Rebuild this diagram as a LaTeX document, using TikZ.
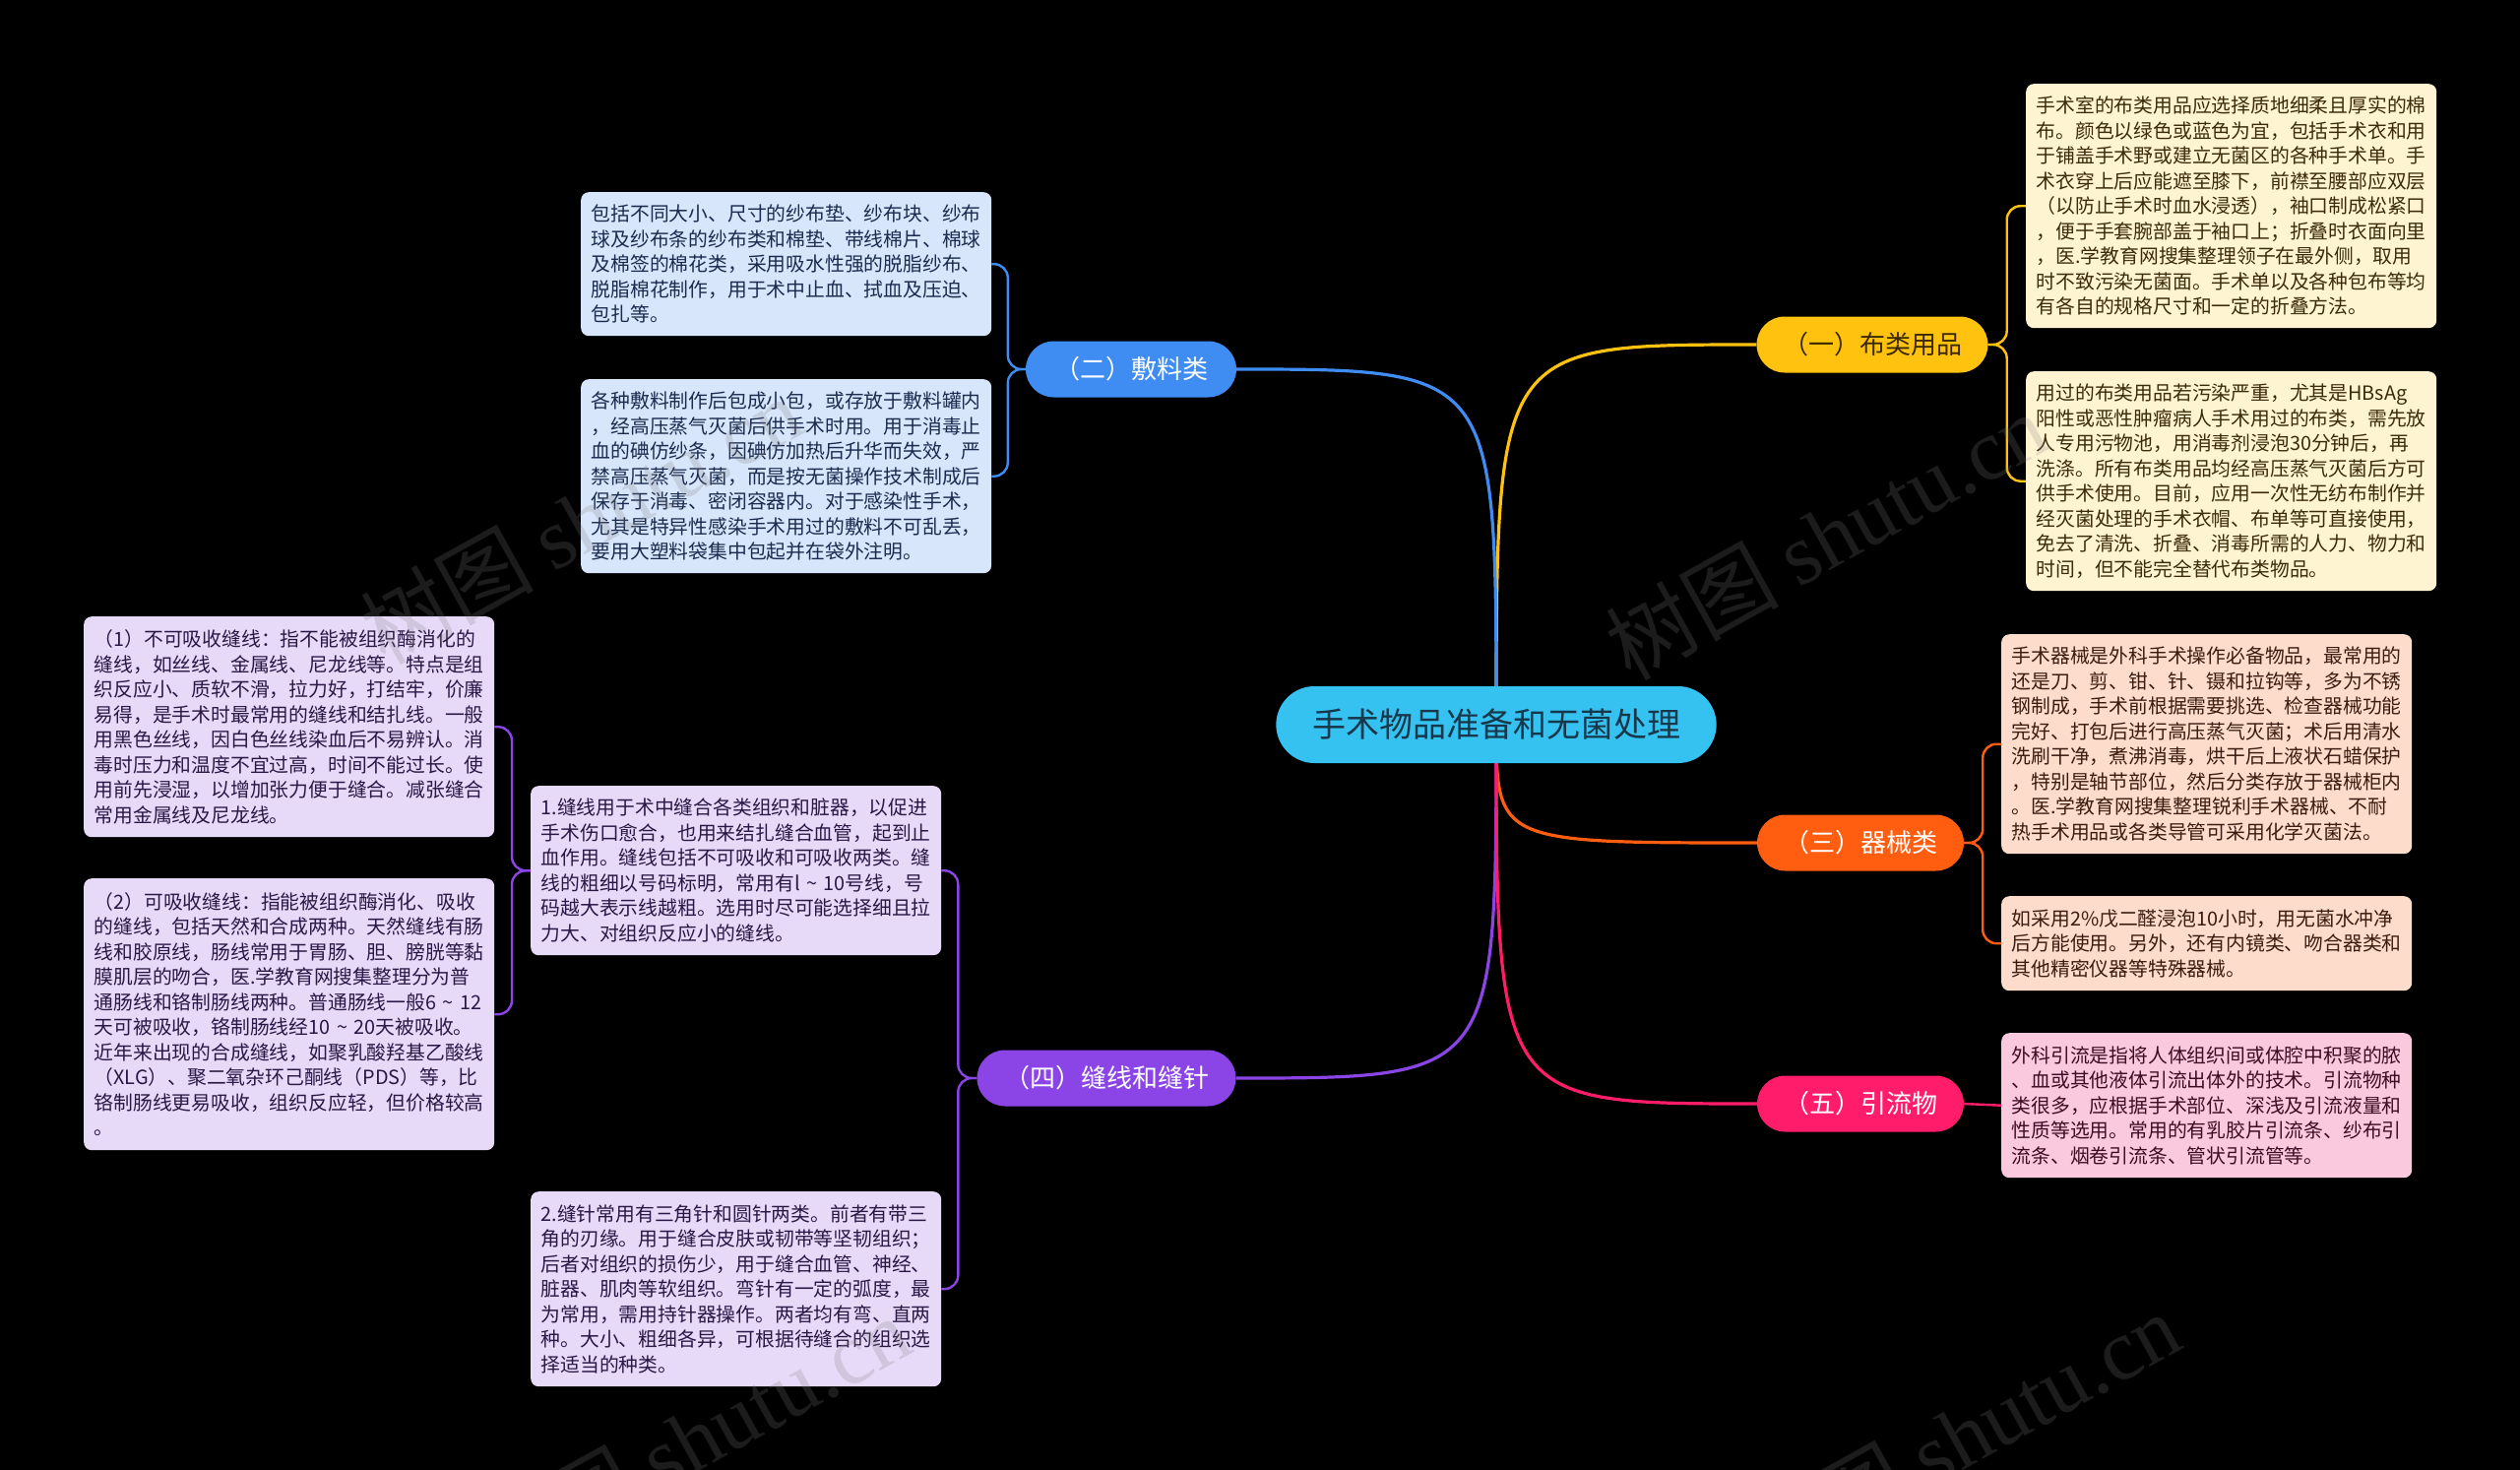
\documentclass[tikz,border=0pt]{standalone}
\usepackage{fontspec}
\setmainfont{Noto Sans CJK SC}
\newfontfamily\wmlatin{Liberation Serif}
\usetikzlibrary{shapes.misc,backgrounds}
\definecolor{rootfill}{HTML}{36C2F1}
\definecolor{roottext}{HTML}{17384A}
\definecolor{ylw}{HTML}{FFC20E}
\definecolor{ylwtext}{HTML}{3A2800}
\definecolor{blu}{HTML}{3F8CF2}
\definecolor{org}{HTML}{FF5D0F}
\definecolor{pur}{HTML}{8B45E6}
\definecolor{pnk}{HTML}{FF1C6B}
\definecolor{creamfill}{HTML}{FFF4D2}
\definecolor{creamtext}{HTML}{3B2A0B}
\definecolor{bluefill}{HTML}{D7E6FB}
\definecolor{bluetext}{HTML}{1B2B4F}
\definecolor{peachfill}{HTML}{FDDCCB}
\definecolor{peachtext}{HTML}{3A1C10}
\definecolor{pinkfill}{HTML}{FBC9DE}
\definecolor{pinktext}{HTML}{3D0C24}
\definecolor{purfill}{HTML}{E6DAF8}
\definecolor{purtext}{HTML}{2B1745}
\tikzset{
  leafbox/.style={rounded corners=8pt, anchor=north west, align=left,
    text width=396pt, inner xsep=10.5pt, inner ysep=0pt,
    font=\fontsize{19.8pt}{25.5pt}\selectfont},
  branchbox/.style={rounded rectangle, minimum height=57pt, inner xsep=0pt,
    font=\fontsize{26pt}{30pt}\selectfont},
  rootline/.style={line width=3.2pt},
  leafline/.style={line width=2.4pt, rounded corners=14pt},
  wmark/.style={text=gray, opacity=0.22, rotate=29,
    font=\fontsize{88pt}{90pt}\selectfont}
}
\begin{document}
\begin{tikzpicture}[x=1pt,y=-1pt]
\useasboundingbox (0,0) rectangle (2560,1493);
% root
\node[rounded rectangle, fill=rootfill, text=roottext, minimum width=454pt, minimum height=78pt,
  font=\fontsize{34pt}{38pt}\selectfont] (R) at (1520,736) {手术物品准备和无菌处理};
% branches
\node[branchbox, fill=ylw, text=ylwtext, minimum width=235pt] (B1) at (1902,350) {（一）布类用品};
\node[branchbox, fill=blu, text=white, minimum width=214pt] (B2) at (1149,375) {（二）敷料类};
\node[branchbox, fill=org, text=white, minimum width=210pt] (B3) at (1890,856) {（三）器械类};
\node[branchbox, fill=pur, text=white, minimum width=263pt] (B4) at (1124,1095) {（四）缝线和缝针};
\node[branchbox, fill=pnk, text=white, minimum width=210pt] (B5) at (1890,1121) {（五）引流物};
% leaves
\node[leafbox, fill=creamfill, text=creamtext, minimum height=248pt] (L1) at (2058,85) {手术室的布类用品应选择质地细柔且厚实的棉\\布。颜色以绿色或蓝色为宜，包括手术衣和用\\于铺盖手术野或建立无菌区的各种手术单。手\\术衣穿上后应能遮至膝下，前襟至腰部应双层\\（以防止手术时血水浸透），袖口制成松紧口\\，便于手套腕部盖于袖口上；折叠时衣面向里\\，医.学教育网搜集整理领子在最外侧，取用\\时不致污染无菌面。手术单以及各种包布等均\\有各自的规格尺寸和一定的折叠方法。};
\node[leafbox, fill=creamfill, text=creamtext, minimum height=223pt] (L2) at (2058,377) {用过的布类用品若污染严重，尤其是HBsAg\\阳性或恶性肿瘤病人手术用过的布类，需先放\\人专用污物池，用消毒剂浸泡30分钟后，再\\洗涤。所有布类用品均经高压蒸气灭菌后方可\\供手术使用。目前，应用一次性无纺布制作并\\经灭菌处理的手术衣帽、布单等可直接使用，\\免去了清洗、折叠、消毒所需的人力、物力和\\时间，但不能完全替代布类物品。};
\node[leafbox, fill=peachfill, text=peachtext, minimum height=223pt] (L3) at (2033,644) {手术器械是外科手术操作必备物品，最常用的\\还是刀、剪、钳、针、镊和拉钩等，多为不锈\\钢制成，手术前根据需要挑选、检查器械功能\\完好、打包后进行高压蒸气灭菌；术后用清水\\洗刷干净，煮沸消毒，烘干后上液状石蜡保护\\，特别是轴节部位，然后分类存放于器械柜内\\。医.学教育网搜集整理锐利手术器械、不耐\\热手术用品或各类导管可采用化学灭菌法。};
\node[leafbox, fill=peachfill, text=peachtext, minimum height=96pt] (L4) at (2033,910) {如采用2\%戊二醛浸泡10小时，用无菌水冲净\\后方能使用。另外，还有内镜类、吻合器类和\\其他精密仪器等特殊器械。};
\node[leafbox, fill=pinkfill, text=pinktext, minimum height=147pt] (L5) at (2033,1049) {外科引流是指将人体组织间或体腔中积聚的脓\\、血或其他液体引流出体外的技术。引流物种\\类很多，应根据手术部位、深浅及引流液量和\\性质等选用。常用的有乳胶片引流条、纱布引\\流条、烟卷引流条、管状引流管等。};
\node[leafbox, fill=bluefill, text=bluetext, minimum height=146pt] (L6) at (590,195) {包括不同大小、尺寸的纱布垫、纱布块、纱布\\球及纱布条的纱布类和棉垫、带线棉片、棉球\\及棉签的棉花类，采用吸水性强的脱脂纱布、\\脱脂棉花制作，用于术中止血、拭血及压迫、\\包扎等。};
\node[leafbox, fill=bluefill, text=bluetext, minimum height=197pt] (L7) at (590,385) {各种敷料制作后包成小包，或存放于敷料罐内\\，经高压蒸气灭菌后供手术时用。用于消毒止\\血的碘仿纱条，因碘仿加热后升华而失效，严\\禁高压蒸气灭菌，而是按无菌操作技术制成后\\保存于消毒、密闭容器内。对于感染性手术，\\尤其是特异性感染手术用过的敷料不可乱丢，\\要用大塑料袋集中包起并在袋外注明。};
\node[leafbox, fill=purfill, text=purtext, minimum height=224pt] (L8) at (85,626) {（1）不可吸收缝线：指不能被组织酶消化的\\缝线，如丝线、金属线、尼龙线等。特点是组\\织反应小、质软不滑，拉力好，打结牢，价廉\\易得，是手术时最常用的缝线和结扎线。一般\\用黑色丝线，因白色丝线染血后不易辨认。消\\毒时压力和温度不宜过高，时间不能过长。使\\用前先浸湿，以增加张力便于缝合。减张缝合\\常用金属线及尼龙线。};
\node[leafbox, fill=purfill, text=purtext, minimum height=276pt] (L9) at (85,892) {（2）可吸收缝线：指能被组织酶消化、吸收\\的缝线，包括天然和合成两种。天然缝线有肠\\线和胶原线，肠线常用于胃肠、胆、膀胱等黏\\膜肌层的吻合，医.学教育网搜集整理分为普\\通肠线和铬制肠线两种。普通肠线一般6 \textasciitilde{} 12\\天可被吸收，铬制肠线经10 \textasciitilde{} 20天被吸收。\\近年来出现的合成缝线，如聚乳酸羟基乙酸线\\（XLG）、聚二氧杂环己酮线（PDS）等，比\\铬制肠线更易吸收，组织反应轻，但价格较高\\。};
\node[leafbox, fill=purfill, text=purtext, minimum height=172pt] (L10) at (539,798) {1.缝线用于术中缝合各类组织和脏器，以促进\\手术伤口愈合，也用来结扎缝合血管，起到止\\血作用。缝线包括不可吸收和可吸收两类。缝\\线的粗细以号码标明，常用有l \textasciitilde{} 10号线，号\\码越大表示线越粗。选用时尽可能选择细且拉\\力大、对组织反应小的缝线。};
\node[leafbox, fill=purfill, text=purtext, minimum height=198pt] (L11) at (539,1210) {2.缝针常用有三角针和圆针两类。前者有带三\\角的刃缘。用于缝合皮肤或韧带等坚韧组织；\\后者对组织的损伤少，用于缝合血管、神经、\\脏器、肌肉等软组织。弯针有一定的弧度，最\\为常用，需用持针器操作。两者均有弯、直两\\种。大小、粗细各异，可根据待缝合的组织选\\择适当的种类。};
% watermarks
\node[wmark] (W1) at (590,528) {树图 {\wmlatin shutu.cn}};
\node[wmark] (W2) at (1855,544) {树图 {\wmlatin shutu.cn}};
\node[wmark] (W3) at (700,1462) {树图 {\wmlatin shutu.cn}};
\node[wmark] (W4) at (1990,1458) {树图 {\wmlatin shutu.cn}};
\begin{pgfonlayer}{background}
\fill[black] (0,0) rectangle (2560,1493);
% root to branches
\draw[rootline, ylw] (R.center) .. controls (R.center |- B1.west) .. (B1.west);
\draw[rootline, blu] (R.center) .. controls (R.center |- B2.east) .. (B2.east);
\draw[rootline, org] (R.center) .. controls (R.center |- B3.west) .. (B3.west);
\draw[rootline, pur] (R.center) .. controls (R.center |- B4.east) .. (B4.east);
\draw[rootline, pnk] (R.center) .. controls (R.center |- B5.west) .. (B5.west);
% branches to leaves
\draw[leafline, ylw] (B1.east) -- ++(19,0) |- (L1.west);
\draw[leafline, ylw] (B1.east) -- ++(19,0) |- (L2.west);
\draw[leafline, org] (B3.east) -- ++(19,0) |- (L3.west);
\draw[leafline, org] (B3.east) -- ++(19,0) |- (L4.west);
\draw[leafline, pnk] (B5.east) -- (L5.west);
\draw[leafline, blu] (B2.west) -- ++(-18,0) |- (L6.east);
\draw[leafline, blu] (B2.west) -- ++(-18,0) |- (L7.east);
\draw[leafline, pur] (B4.west) -- ++(-19,0) |- (L10.east);
\draw[leafline, pur] (B4.west) -- ++(-19,0) |- (L11.east);
\draw[leafline, pur] (L10.west) -- ++(-19,0) |- (L8.east);
\draw[leafline, pur] (L10.west) -- ++(-19,0) |- (L9.east);
\end{pgfonlayer}
\end{tikzpicture}
\end{document}
